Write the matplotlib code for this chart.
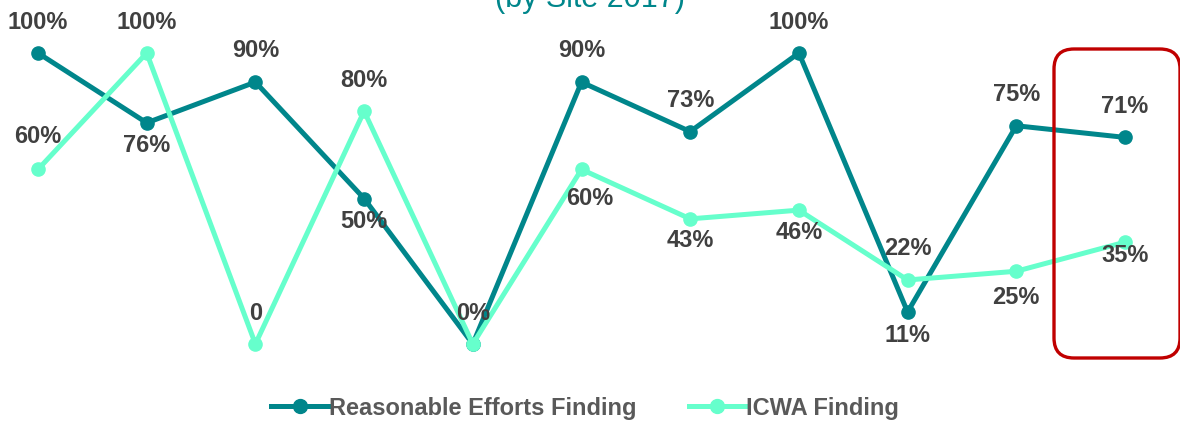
import matplotlib
matplotlib.use("Agg")
import matplotlib.pyplot as plt
from matplotlib.lines import Line2D
from matplotlib.patches import FancyBboxPatch
from matplotlib.transforms import IdentityTransform

plt.rcParams['font.family'] = ['Liberation Sans', 'DejaVu Sans']

# Data
sites = list(range(11))
reasonable_efforts = [100, 76, 90, 50, 0, 90, 73, 100, 11, 75, 71]
icwa = [60, 100, 0, 80, 0, 60, 43, 46, 22, 25, 35]
re_labels = ["100%", "76%", "90%", "50%", "0%", "90%", "73%", "100%", "11%", "75%", "71%"]
icwa_labels = ["60%", "100%", "0", "80%", None, "60%", "43%", "46%", "22%", "25%", "35%"]

# label offsets in pixels (positive = above the point)
re_dy = [31, -23, 32, -23, 31, 32, 31, 31, -24, 31, 31]
icwa_dy = [33, 31, 31, 31, 0, -29, -22, -22, 31, -26, -13]
icwa_dx = [0, 0, 0, 0, 0, 8, 0, 0, 0, 0, 0]

DARK = "#00868B"
LIGHT = "#66FFCC"
LABEL = "#404040"

W, H, DPI = 1180, 421, 100
fig = plt.figure(figsize=(W / DPI, H / DPI), dpi=DPI)
ax = fig.add_axes([0, 0, 1, 1])

# pixel geometry: x=0 at px 38, x=10 at px 1125; 0% at 77px from bottom, 100% at 368px
px_per_x = (1125 - 38) / 10
px_per_pct = (368 - 77) / 100
ax.set_xlim(-38 / px_per_x, 10 + (W - 1125) / px_per_x)
ax.set_ylim(-77 / px_per_pct, 100 + 53 / px_per_pct)
ax.axis('off')

ax.plot(sites, reasonable_efforts, color=DARK, lw=3.6, marker='o', ms=9.5, zorder=3)
ax.plot(sites, icwa, color=LIGHT, lw=3.6, marker='o', ms=9.5, zorder=4)

pt = 72 / DPI
for x, y, lab, dy in zip(sites, reasonable_efforts, re_labels, re_dy):
    if lab is None:
        continue
    ax.annotate(lab, (x, y), xytext=(0, dy * pt), textcoords='offset points',
                ha='center', va='center', fontsize=17, fontweight='bold', color=LABEL, zorder=6)
for x, y, lab, dy, dx in zip(sites, icwa, icwa_labels, icwa_dy, icwa_dx):
    if lab is None:
        continue
    ax.annotate(lab, (x, y), xytext=(dx * pt, dy * pt), textcoords='offset points',
                ha='center', va='center', fontsize=17, fontweight='bold', color=LABEL, zorder=6)

# title remnant at the top edge (the rest sits above the crop)
fig.text(0.5, 1 - 7 / H, "(by Site 2017)", ha='center', va='baseline',
         fontsize=22, color=DARK)

# red rounded highlight around last site
fig.canvas.draw()
lx, _ = ax.transData.transform((sites[-1], 0))
box = FancyBboxPatch((lx - 71, H - 358), 126, 309,
                     boxstyle="round,pad=0,rounding_size=20",
                     transform=IdentityTransform(), fill=False,
                     edgecolor="#C00000", lw=2.4, zorder=10)
fig.add_artist(box)

handles = [
    Line2D([], [], color=DARK, lw=3.6, marker='o', ms=10),
    Line2D([], [], color=LIGHT, lw=3.6, marker='o', ms=10),
]
leg = ax.legend(handles, ["Reasonable Efforts Finding", "ICWA Finding"],
                loc='center', bbox_to_anchor=(0.496, 13 / H), ncol=2, frameon=False,
                handlelength=2.4, handletextpad=0.05, columnspacing=2.2,
                prop={'size': 17, 'weight': 'bold'})
for t in leg.get_texts():
    t.set_color("#595959")

fig.savefig("out.png", dpi=DPI)
